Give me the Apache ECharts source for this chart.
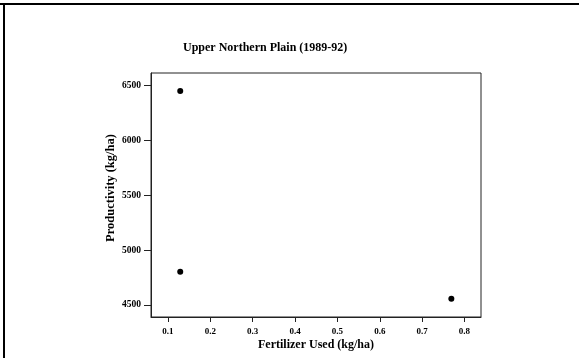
<!DOCTYPE html>
<html>
<head>
<meta charset="utf-8">
<script src="https://cdn.jsdelivr.net/npm/echarts@6/dist/echarts.min.js"></script>
<style>html,body{margin:0;padding:0;background:#fff}#c{width:579px;height:358px}</style>
</head>
<body>
<div id="c"></div>
<script>
const fertilizer = [0.129, 0.129, 0.769];
const productivity = [6448, 4803, 4557];
const xTicks = [0.1, 0.2, 0.3, 0.4, 0.5, 0.6, 0.7, 0.8];
const yTicks = [4500, 5000, 5500, 6000, 6500];
const titleText = 'Upper Northern Plain (1989-92)';
const xName = 'Fertilizer Used (kg/ha)';
const yName = 'Productivity (kg/ha)';

const font = 'Liberation Serif';
const chart = echarts.init(document.getElementById('c'), null, {renderer: 'canvas'});
chart.setOption({
  animation: false,
  backgroundColor: '#fff',
  title: {
    text: titleText, left: 178, top: 37,
    textStyle: {fontFamily: font, fontWeight: 'bold', fontSize: 12, color: '#000'}
  },
  grid: {left: 151, right: 98, top: 73, bottom: 41, show: true, borderColor: '#222', borderWidth: 1,
    containLabel: false, outerBoundsMode: 'none'},
  xAxis: {
    type: 'value', min: 0.06, max: 0.839,
    name: xName, nameLocation: 'middle', nameGap: 22, nameMoveOverlap: false,
    nameTextStyle: {fontFamily: font, fontWeight: 'bold', fontSize: 12, color: '#000'},
    axisLine: {show: true, lineStyle: {color: '#222', width: 1}},
    axisTick: {show: true, length: 5, customValues: xTicks, lineStyle: {color: '#222'}},
    axisLabel: {customValues: xTicks, fontFamily: font, fontWeight: 'bold', fontSize: 9, color: '#000', margin: 10,
      formatter: v => v.toFixed(1)},
    splitLine: {show: false}
  },
  yAxis: {
    type: 'value', min: 4391, max: 6612,
    name: yName, nameLocation: 'middle', nameGap: 34, nameMoveOverlap: false,
    nameTextStyle: {fontFamily: font, fontWeight: 'bold', fontSize: 12.5, color: '#000', padding: [0, 0, 0, 14]},
    axisLine: {show: true, lineStyle: {color: '#222', width: 1}},
    axisTick: {show: true, length: 7, customValues: yTicks, lineStyle: {color: '#222'}},
    axisLabel: {customValues: yTicks, fontFamily: font, fontWeight: 'bold', fontSize: 9.5, color: '#000', margin: 10,
      formatter: v => String(v)},
    splitLine: {show: false}
  },
  series: [{
    type: 'scatter',
    data: fertilizer.map((x, i) => [x, productivity[i]]),
    symbol: 'circle', symbolSize: 6,
    itemStyle: {color: '#000', opacity: 1}
  }],
  graphic: [
    {type: 'line', shape: {x1: 0, y1: 4, x2: 579, y2: 4}, style: {stroke: '#000', lineWidth: 2}},
    {type: 'line', shape: {x1: 4, y1: 3, x2: 4, y2: 358}, style: {stroke: '#000', lineWidth: 2}}
  ]
});
</script>
</body>
</html>
